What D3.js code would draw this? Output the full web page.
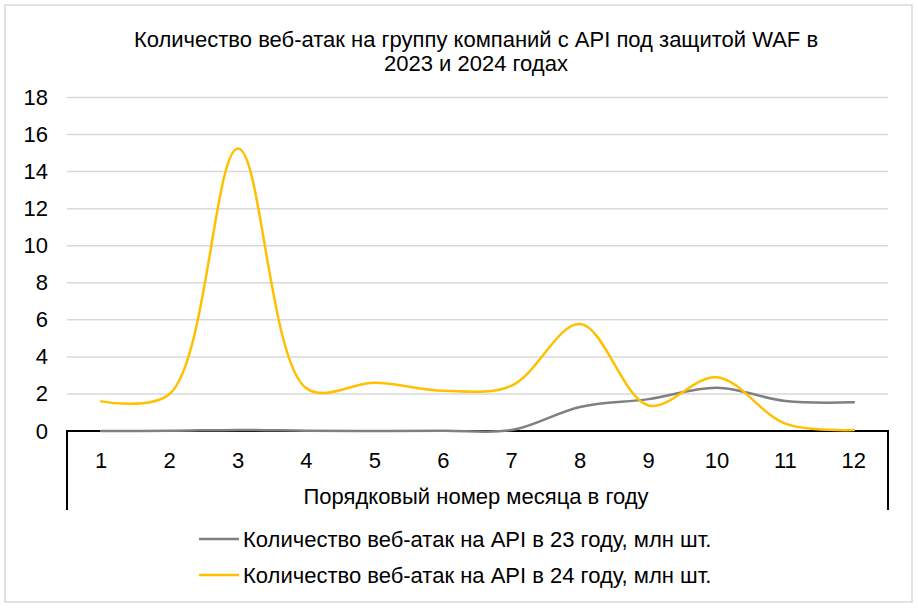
<!DOCTYPE html>
<html>
<head>
<meta charset="utf-8">
<script src="https://cdn.jsdelivr.net/npm/d3@7"></script>
<style>
  body { margin: 0; background: #fff; }
  text { font-family: "Liberation Sans", Arial, sans-serif; fill: #000; }
</style>
</head>
<body>
<script>
// données
const mois = [1, 2, 3, 4, 5, 6, 7, 8, 9, 10, 11, 12];
const attaques23 = [0, 0.01, 0.06, 0.02, 0, 0.02, 0.05, 1.3, 1.72, 2.34, 1.62, 1.55];
const attaques24 = [1.6, 2.0, 15.25, 2.3, 2.6, 2.17, 2.45, 5.77, 1.38, 2.9, 0.4, 0.05];
const graduationsY = [0, 2, 4, 6, 8, 10, 12, 14, 16, 18];
const titre = ["Количество веб-атак на группу компаний с API под защитой WAF в", "2023 и 2024 годах"];
const titreAxeX = "Порядковый номер месяца в году";
const legendes = ["Количество веб-атак на API в 23 году, млн шт.", "Количество веб-атак на API в 24 году, млн шт."];
const couleurs = ["#808080", "#ffc000"];

// canevas
const canevas = d3.select('body')
  .append('svg')
  .attr('width', 918)
  .attr('height', 613);

// cadre extérieur
canevas.append('rect')
  .attr('x', 5).attr('y', 5)
  .attr('width', 907).attr('height', 597)
  .attr('fill', 'none')
  .attr('stroke', '#d9d9d9')
  .attr('stroke-width', 1.5);

// échelles
const x = d3.scaleBand()
  .domain(mois)
  .range([67, 888]);
const y = d3.scaleLinear()
  .domain([0, 18])
  .range([431, 97.5]);

// titre
canevas.append('text')
  .attr('x', 476)
  .attr('text-anchor', 'middle')
  .style('font-size', '22px')
  .selectAll('tspan')
  .data(titre)
  .enter()
  .append('tspan')
    .attr('x', 476)
    .attr('y', (d, i) => 47 + i * 24)
    .text(d => d);

// grille
canevas.append('g')
  .selectAll('line')
  .data(graduationsY.filter(d => d > 0))
  .enter()
  .append('line')
    .attr('x1', 67).attr('x2', 888)
    .attr('y1', d => y(d)).attr('y2', d => y(d))
    .attr('stroke', '#d9d9d9')
    .attr('stroke-width', 1.5);

// axe Y
const axeY = canevas.append('g')
  .attr('transform', 'translate(48,0)')
  .call(d3.axisLeft(y).tickValues(graduationsY).tickSize(0).tickPadding(0));
axeY.select('.domain').remove();
axeY.selectAll('text')
  .style('font-size', '22px')
  .style('font-family', '"Liberation Sans", Arial, sans-serif');

// axe X
const axeX = canevas.append('g')
  .attr('transform', 'translate(0,431)')
  .call(d3.axisBottom(x).tickSize(0).tickPadding(21));
axeX.select('.domain').remove();
axeX.selectAll('text')
  .style('font-size', '22px')
  .style('font-family', '"Liberation Sans", Arial, sans-serif');

// boîte des catégories
canevas.append('path')
  .attr('d', d3.line()([[67, 510], [67, 431], [888, 431], [888, 510]]))
  .attr('fill', 'none')
  .attr('stroke', '#000')
  .attr('stroke-width', 2);

canevas.append('text')
  .attr('x', 476)
  .attr('y', 504)
  .attr('text-anchor', 'middle')
  .style('font-size', '22px')
  .text(titreAxeX);

// courbes
const genererLigne = d3.line()
  .x((d, i) => x(mois[i]) + x.bandwidth() / 2)
  .y(d => y(d))
  .curve(d3.curveCatmullRom.alpha(0.5));

canevas.selectAll('path.serie')
  .data([attaques23, attaques24])
  .enter()
  .append('path')
    .attr('class', 'serie')
    .attr('d', genererLigne)
    .attr('fill', 'none')
    .attr('stroke', (d, i) => couleurs[i])
    .attr('stroke-width', 2.5)
    .attr('stroke-linecap', 'round');

// légende
const legende = canevas.selectAll('g.legende')
  .data(legendes)
  .enter()
  .append('g')
    .attr('class', 'legende')
    .attr('transform', (d, i) => `translate(199,${539 + i * 36})`);
legende.append('line')
  .attr('x1', 0).attr('x2', 40)
  .attr('stroke', (d, i) => couleurs[i])
  .attr('stroke-width', 2.5);
legende.append('text')
  .attr('x', 44)
  .attr('y', 8)
  .style('font-size', '22px')
  .text(d => d);
</script>
</body>
</html>
